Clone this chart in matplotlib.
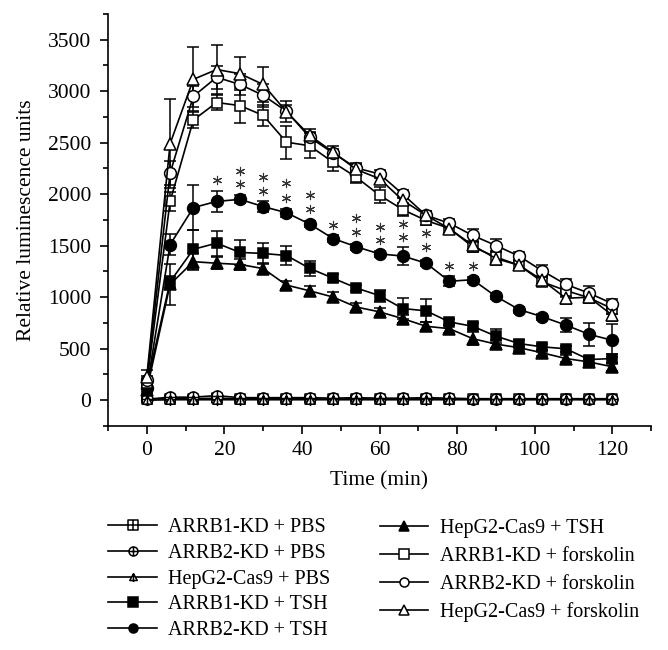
import numpy as np
import matplotlib
matplotlib.use("Agg")
import matplotlib.pyplot as plt
from matplotlib.path import Path
from matplotlib.ticker import MultipleLocator

plt.rcParams['font.family'] = ['Liberation Serif', 'DejaVu Serif']

# time points (min)
t = np.arange(0, 121, 6)

labels = ["ARRB1-KD + PBS", "ARRB2-KD + PBS", "HepG2-Cas9 + PBS",
          "ARRB1-KD + TSH", "ARRB2-KD + TSH", "HepG2-Cas9 + TSH",
          "ARRB1-KD + forskolin", "ARRB2-KD + forskolin", "HepG2-Cas9 + forskolin"]

arrb1_pbs = [10, 15, 15, 20, 15, 15, 15, 15, 10, 15, 10, 10, 15, 10, 10, 10, 10, 10, 10, 10, 10]
arrb1_pbs_err = [10, 10, 10, 10, 10, 10, 10, 10, 10, 10, 10, 10, 10, 10, 10, 10, 10, 10, 10, 10, 10]
arrb2_pbs = [10, 30, 30, 45, 25, 25, 25, 25, 20, 25, 20, 20, 25, 20, 15, 15, 15, 15, 15, 15, 15]
arrb2_pbs_err = [15, 15, 15, 15, 15, 15, 15, 15, 15, 15, 15, 15, 15, 15, 15, 15, 15, 15, 15, 15, 15]
hep_pbs = [0, 5, 5, 5, 5, 5, 5, 5, 5, 5, 5, 5, 5, 5, 5, 5, 5, 5, 5, 5, 5]
hep_pbs_err = [20, 20, 20, 20, 20, 20, 20, 20, 20, 20, 20, 20, 20, 20, 20, 20, 20, 20, 20, 20, 20]

arrb1_tsh = [150, 1150, 1465, 1525, 1435, 1425, 1405, 1280, 1185, 1090, 1015, 890, 868, 760, 718, 622, 550, 518, 500, 395, 405]
arrb1_tsh_err = [40, 60, 190, 120, 120, 100, 90, 70, 40, 30, 60, 100, 110, 30, 30, 70, 30, 30, 30, 30, 40]
arrb2_tsh = [120, 1510, 1870, 1930, 1950, 1880, 1820, 1710, 1570, 1490, 1420, 1400, 1330, 1155, 1170, 1008, 880, 810, 730, 640, 582]
arrb2_tsh_err = [40, 100, 220, 100, 40, 50, 40, 30, 30, 30, 30, 90, 30, 50, 30, 30, 30, 30, 70, 110, 160]
hep_tsh = [100, 1125, 1345, 1330, 1318, 1278, 1118, 1062, 1002, 905, 858, 792, 718, 695, 598, 545, 510, 460, 405, 372, 325]
hep_tsh_err = [40, 200, 80, 60, 50, 50, 40, 50, 50, 40, 40, 40, 40, 40, 60, 40, 30, 30, 30, 30, 40]

arrb1_fsk = [170, 1930, 2720, 2890, 2860, 2765, 2505, 2470, 2310, 2165, 1990, 1850, 1745, 1668, 1490, 1390, 1310, 1148, 1065, 995, 888]
arrb1_fsk_err = [40, 90, 80, 70, 170, 100, 160, 120, 80, 60, 80, 60, 40, 40, 50, 60, 40, 40, 60, 40, 50]
arrb2_fsk = [200, 2205, 2950, 3135, 3065, 2960, 2805, 2552, 2400, 2255, 2196, 2000, 1795, 1718, 1600, 1502, 1398, 1255, 1125, 1040, 938]
arrb2_fsk_err = [40, 120, 100, 110, 100, 110, 60, 50, 40, 40, 40, 40, 40, 40, 60, 60, 40, 60, 50, 70, 40]
hep_fsk = [230, 2490, 3115, 3210, 3170, 3065, 2800, 2570, 2410, 2240, 2150, 1940, 1795, 1665, 1505, 1375, 1310, 1165, 990, 1000, 825]
hep_fsk_err = [60, 430, 310, 240, 160, 170, 100, 60, 60, 60, 50, 50, 40, 40, 40, 60, 40, 40, 60, 60, 60]

# significance stars: (time, y value)
star_t = [18, 24, 24, 30, 30, 36, 36, 42, 42, 48, 54, 54, 60, 60, 66, 66, 72, 72, 78, 84]
star_y = [2135, 2230, 2100, 2170, 2035, 2105, 1965, 1995, 1860, 1705, 1765, 1630, 1685, 1560, 1715, 1580, 1620, 1483, 1305, 1305]

# crossed markers for the PBS groups
sq_plus = Path([(-1, -1), (1, -1), (1, 1), (-1, 1), (-1, -1), (-1, 0), (1, 0), (0, -1), (0, 1)],
               [1, 2, 2, 2, 79, 1, 2, 1, 2])
circ = Path.unit_circle()
circ_plus = Path.make_compound_path(circ, Path([(-1, 0), (1, 0), (0, -1), (0, 1)], [1, 2, 1, 2]))
tri_plus = Path([(0, 1), (-1, -0.8), (1, -0.8), (0, 1), (0, 1), (0, -1.2)],
                [1, 2, 2, 79, 1, 2])

series = [
    (arrb1_pbs, arrb1_pbs_err, sq_plus, 'white', 7),
    (arrb2_pbs, arrb2_pbs_err, circ_plus, 'white', 8),
    (hep_pbs, hep_pbs_err, tri_plus, 'white', 8),
    (arrb1_tsh, arrb1_tsh_err, 's', 'black', 7),
    (arrb2_tsh, arrb2_tsh_err, 'o', 'black', 8.5),
    (hep_tsh, hep_tsh_err, '^', 'black', 8),
    (arrb1_fsk, arrb1_fsk_err, 's', 'white', 7.5),
    (arrb2_fsk, arrb2_fsk_err, 'o', 'white', 8.5),
    (hep_fsk, hep_fsk_err, '^', 'white', 9),
]

fig = plt.figure(figsize=(6.68, 6.5), dpi=100)
ax = fig.add_axes([0.1617, 0.3446, 0.813, 0.634])

handles = []
for (y, e, m, fc, ms), lab in zip(series, labels):
    ax.errorbar(t, y, yerr=e, fmt='none', ecolor='black', elinewidth=1.1,
                capsize=4, capthick=1.1, zorder=2)
    h, = ax.plot(t, y, color='black', lw=1.2, marker=m, ms=ms, mfc=fc,
                 mec='black', mew=1.1, label=lab, zorder=3)
    handles.append(h)

ax.scatter(star_t, star_y, marker=(6, 2, 0), s=36, color='#333333', lw=0.8, zorder=4)

ax.set_xlim(-10, 130)
ax.set_ylim(-250, 3750)
ax.xaxis.set_minor_locator(MultipleLocator(10))
ax.yaxis.set_minor_locator(MultipleLocator(250))
ax.set_xticks([0, 20, 40, 60, 80, 100, 120])
ax.set_yticks([0, 500, 1000, 1500, 2000, 2500, 3000, 3500])
ax.spines['top'].set_visible(False)
ax.spines['right'].set_visible(False)
ax.spines['left'].set_linewidth(1.2)
ax.spines['bottom'].set_linewidth(1.2)
ax.tick_params(which='major', length=6, width=1.2, labelsize=15.5)
ax.tick_params(axis='y', which='major', pad=6)
ax.tick_params(axis='x', which='major', pad=5)
ax.tick_params(which='minor', length=3.5, width=1.2)
ax.set_xlabel("Time (min)", fontsize=15.5)
ax.set_ylabel("Relative luminescence units", fontsize=15.5)
ax.xaxis.set_label_coords(0.499, -0.11)
ax.yaxis.set_label_coords(-0.133, 0.5)

leg1 = fig.legend(handles[:5], labels[:5], loc='upper left', bbox_to_anchor=(0.1617, 0.203),
                  frameon=False, fontsize=14.5, handlelength=2.45, handletextpad=0.55,
                  labelspacing=0.33, borderaxespad=0, borderpad=0)
leg2 = fig.legend(handles[5:], labels[5:], loc='upper left', bbox_to_anchor=(0.569, 0.2015),
                  frameon=False, fontsize=14.5, handlelength=2.4, handletextpad=0.55,
                  labelspacing=0.43, borderaxespad=0, borderpad=0)
for lg in (leg1, leg2):
    for lh in lg.legend_handles:
        lh.set_markersize(6.5)

fig.savefig("out.png", dpi=100)
